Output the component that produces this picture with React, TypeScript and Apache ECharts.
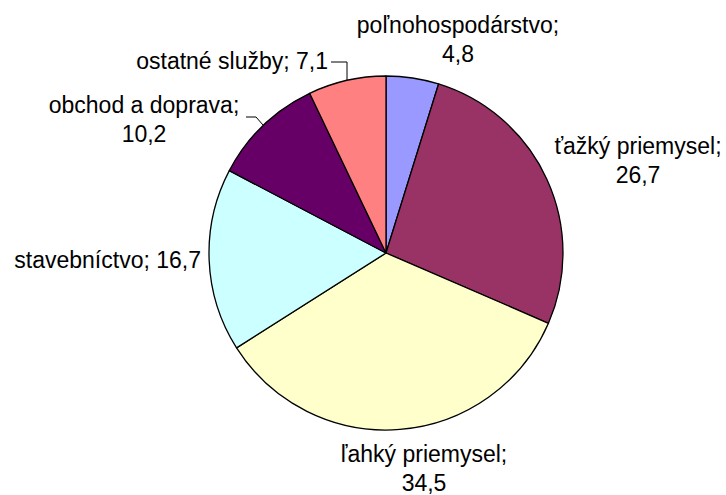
import React, { useEffect, useRef } from "react";
import * as echarts from "echarts";

const categories = [
  "poľnohospodárstvo",
  "ťažký priemysel",
  "ľahký priemysel",
  "stavebníctvo",
  "obchod a doprava",
  "ostatné služby",
];
const values = [4.8, 26.7, 34.5, 16.7, 10.2, 7.1];
const colors = ["#9999FF", "#993366", "#FFFFCC", "#CCFFFF", "#660066", "#FF8080"];
const singleLineLabels = ["stavebníctvo", "ostatné služby"];
const withLeader = ["obchod a doprava", "ostatné služby"];

// label placement (center / anchor of text block), align
const labelPos: Array<[number, number, string]> = [
  [458, 39, "center"],
  [638, 160, "center"],
  [424, 468, "center"],
  [201, 260, "right"],
  [144, 119, "center"],
  [328, 61, "right"],
];
const leaderPoints: Record<number, number[][]> = {
  4: [[263, 125], [256, 117], [246, 117]],
  5: [[347, 80], [347, 62], [331, 62]],
};

const fmt = (v: number) => v.toFixed(1).replace(".", ",");

export default function App() {
  const ref = useRef<HTMLDivElement>(null);
  useEffect(() => {
    const chart = echarts.init(ref.current!, null, { renderer: "svg" });
    chart.setOption({
      animation: false,
      backgroundColor: "#ffffff",
      series: [
        {
          type: "pie",
          center: [386, 253],
          radius: 177,
          startAngle: 90,
          clockwise: true,
          avoidLabelOverlap: false,
          silent: true,
          itemStyle: { borderColor: "#000000", borderWidth: 1.3 },
          emphasis: { disabled: true },
          label: {
            show: true,
            position: "outside",
            color: "#000000",
            fontFamily: "Liberation Sans, Arial, sans-serif",
            fontSize: 23,
            lineHeight: 29,
            formatter: (p: any) =>
              p.name + ";" + (singleLineLabels.includes(p.name) ? " " : "\n") + fmt(p.value),
          },
          labelLine: {
            show: true,
            lineStyle: { color: "#000000", width: 1 },
          },
          labelLayout: (params: any) => {
            const i = params.dataIndex;
            const [x, y, align] = labelPos[i];
            const out: any = { x, y, align, verticalAlign: "middle" };
            if (leaderPoints[i]) out.labelLinePoints = leaderPoints[i];
            return out;
          },
          data: categories.map((name, i) => ({
            name,
            value: values[i],
            itemStyle: { color: colors[i] },
            labelLine: { show: withLeader.includes(name) },
          })),
        },
      ],
    });
    return () => chart.dispose();
  }, []);
  return (
    <div
      ref={ref}
      style={{ position: "fixed", left: 0, top: 0, width: 726, height: 495 }}
    />
  );
}
